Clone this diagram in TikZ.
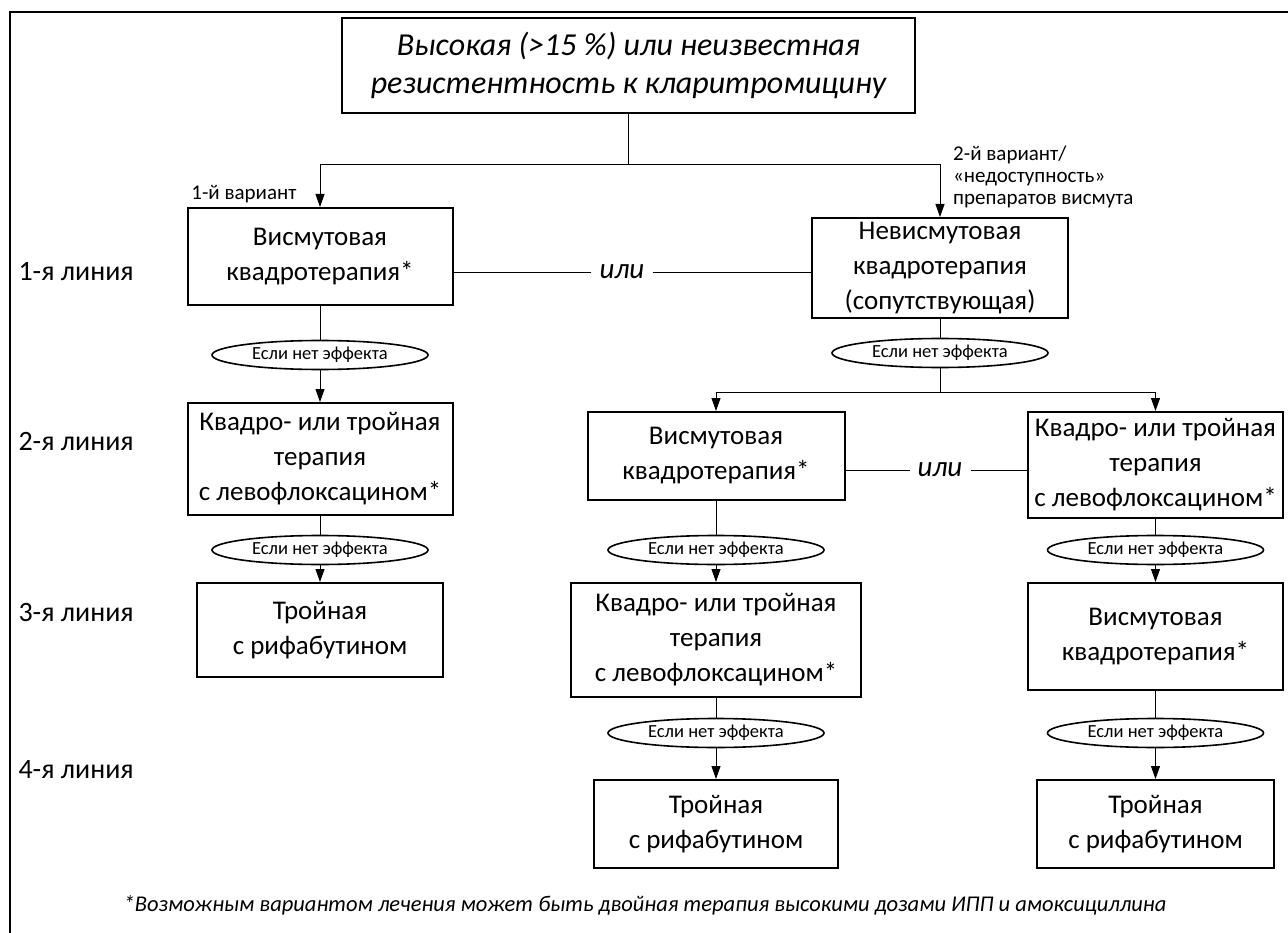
\documentclass[tikz,border=0pt]{standalone}
\usepackage{fontspec}
\setmainfont{Carlito}
\usetikzlibrary{shapes.geometric,arrows.meta}

\begin{document}
\begin{tikzpicture}[x=1pt,y=-1pt,
 box/.style={draw,line width=2pt,align=center,inner sep=0pt,font=\fontsize{27}{35}\selectfont},
 check/.style={draw,ellipse,line width=1.6pt,minimum width=216pt,minimum height=29pt,inner sep=0pt,font=\fontsize{18.5}{20}\selectfont},
 line/.style={line width=0.9pt},
 arr/.style={line width=0.9pt,-{Triangle[length=13pt,width=9pt]}},
 lbl/.style={anchor=west,font=\fontsize{28}{32}\selectfont},
 orlbl/.style={font=\fontsize{29}{32}\selectfont\itshape,inner sep=8pt}]

\useasboundingbox (0,0) rectangle (1288,933);
\draw[line width=2.2pt] (10,933) -- (10,12) -- (1288,12);

\node [box,minimum width=573pt,minimum height=95pt,font=\fontsize{32}{38}\selectfont\itshape] (top) at (628.5,65.5)
 {Высокая (>15 \%) или неизвестная\\резистентность к кларитромицину};

\node [lbl] (row1) at (15,272) {1-я линия};
\node [lbl] (row2) at (15,442) {2-я линия};
\node [lbl] (row3) at (15,613) {3-я линия};
\node [lbl] (row4) at (15,770) {4-я линия};

\node [box,minimum width=265pt,minimum height=97pt] (bq1) at (320,256.5) {Висмутовая\\квадротерапия*};
\node [box,minimum width=256pt,minimum height=100pt] (nbq) at (940,268) {Невисмутовая\\квадротерапия\\(сопутствующая)};
\node [box,minimum width=265pt,minimum height=112pt] (lev1) at (320,459) {Квадро- или тройная\\терапия\\с левофлоксацином*};
\node [box,minimum width=246pt,minimum height=94pt] (rif1) at (320,630) {Тройная\\с рифабутином};

\node [box,minimum width=257pt,minimum height=88pt] (bq2) at (716,456) {Висмутовая\\квадротерапия*};
\node [box,minimum width=290pt,minimum height=114pt] (lev2) at (716,640) {Квадро- или тройная\\терапия\\с левофлоксацином*};
\node [box,minimum width=244pt,minimum height=88pt] (rif2) at (716,824) {Тройная\\с рифабутином};

\node [box,minimum width=255pt,minimum height=106pt] (lev3) at (1155.5,465) {Квадро- или тройная\\терапия\\с левофлоксацином*};
\node [box,minimum width=255pt,minimum height=107pt] (bq3) at (1155.5,636.5) {Висмутовая\\квадротерапия*};
\node [box,minimum width=237pt,minimum height=88pt] (rif3) at (1155.5,824) {Тройная\\с рифабутином};

\node [check] (no1) at (320,355) {Если нет эффекта};
\node [check] (no2) at (320,550) {Если нет эффекта};
\node [check] (no3) at (940,353) {Если нет эффекта};
\node [check] (no4) at (716,550) {Если нет эффекта};
\node [check] (no5) at (716,733) {Если нет эффекта};
\node [check] (no6) at (1155.5,550) {Если нет эффекта};
\node [check] (no7) at (1155.5,733) {Если нет эффекта};

\node [orlbl] (or1) at (622,272) {или};
\node [orlbl] (or2) at (940,470) {или};

\node [anchor=east,font=\fontsize{21}{22}\selectfont] (var1) at (300,194) {1-й вариант};
\node [anchor=north west,align=left,inner sep=0pt,font=\fontsize{21}{22}\selectfont] (var2) at (953,146)
 {2-й вариант/\\«недоступность»\\препаратов висмута};

\node [font=\fontsize{22.5}{26}\selectfont\itshape] (note) at (645,905)
 {*Возможным вариантом лечения может быть двойная терапия высокими дозами ИПП и амоксициллина};

\draw [line] (top.south) -- ++(0,50) coordinate (fork);
\draw [arr] (fork) -| (bq1.north);
\draw [arr] (fork) -| (nbq.north);

\draw [line] (or1.west) -- (or1.west -| bq1.east);
\draw [line] (or1.east) -- (or1.east -| nbq.west);
\draw [line] (or2.west) -- (or2.west -| bq2.east);
\draw [line] (or2.east) -- (or2.east -| lev3.west);

\draw [line] (bq1.south) -- (no1.north);
\draw [arr] (no1.south) -- (lev1.north);
\draw [line] (lev1.south) -- (no2.north);
\draw [arr] (no2.south) -- (rif1.north);

\draw [line] (nbq.south) -- (no3.north);
\draw [line] (no3.south) -- ++(0,24) coordinate (split);
\draw [arr] (split) -| (bq2.north);
\draw [arr] (split) -| (lev3.north);

\draw [line] (bq2.south) -- (no4.north);
\draw [arr] (no4.south) -- (lev2.north);
\draw [line] (lev2.south) -- (no5.north);
\draw [arr] (no5.south) -- (rif2.north);

\draw [line] (lev3.south) -- (no6.north);
\draw [arr] (no6.south) -- (bq3.north);
\draw [line] (bq3.south) -- (no7.north);
\draw [arr] (no7.south) -- (rif3.north);

\end{tikzpicture}
\end{document}
